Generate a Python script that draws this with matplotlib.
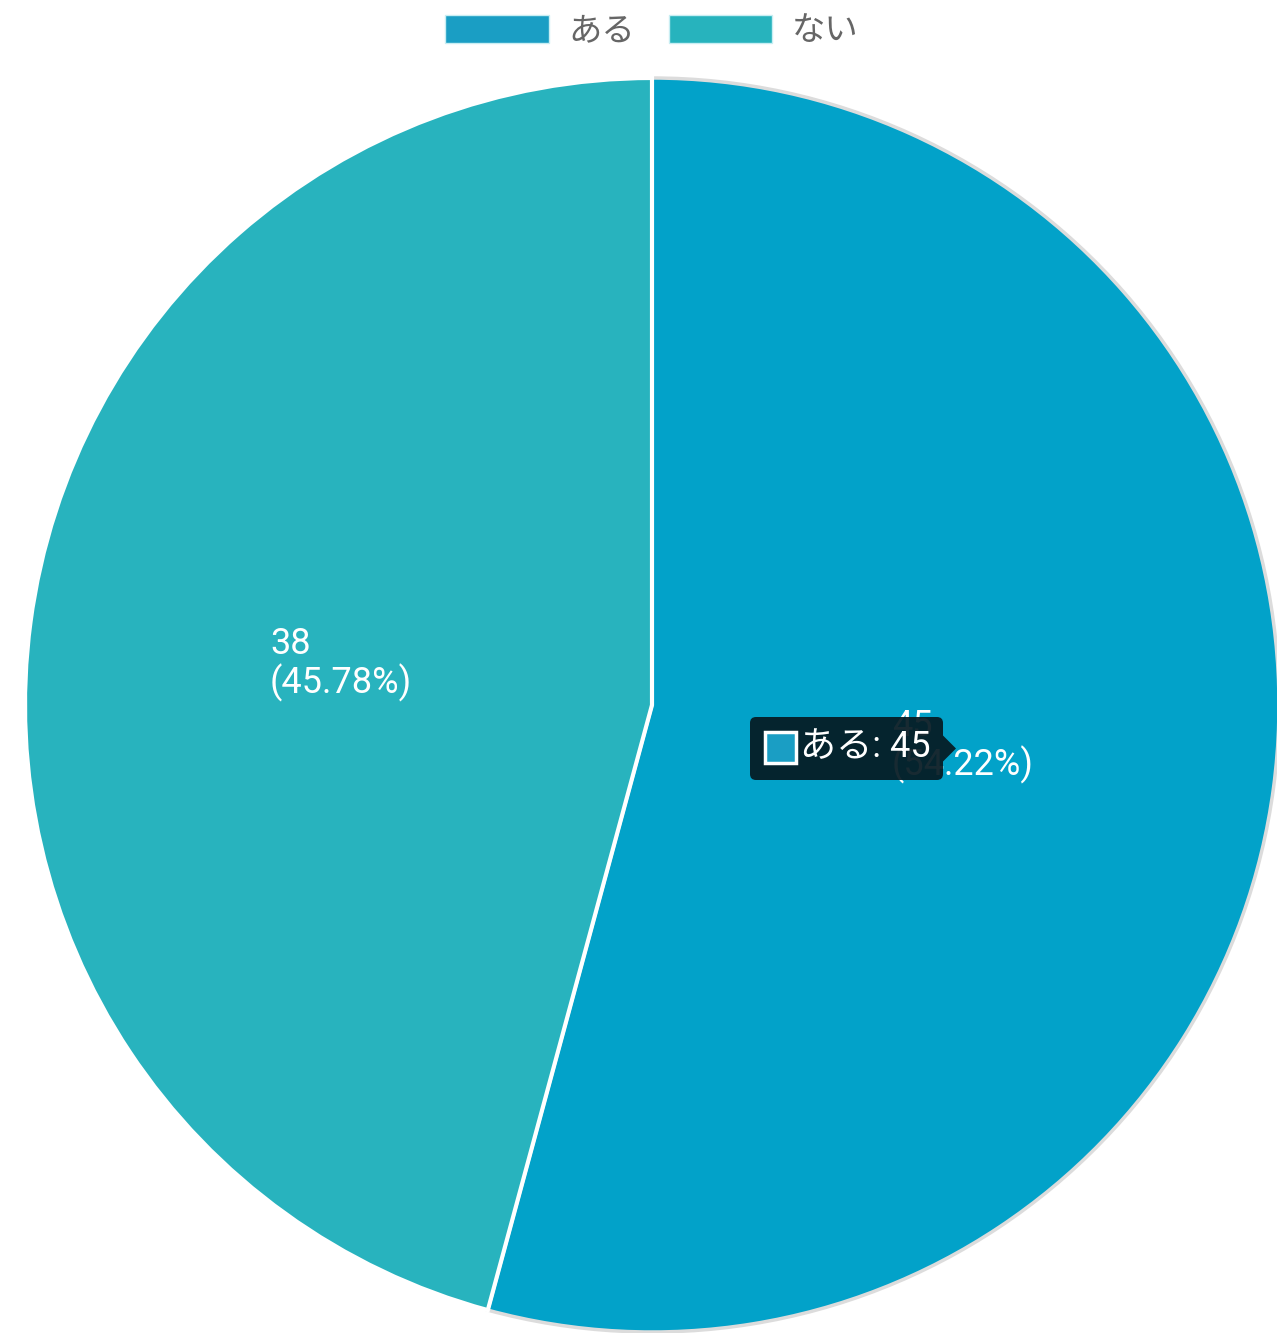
import matplotlib
matplotlib.use("Agg")
from matplotlib import pyplot as plt
from matplotlib.patches import Rectangle, Polygon, FancyBboxPatch

plt.rcParams['font.family'] = ['Roboto', 'Noto Sans CJK JP', 'DejaVu Sans']

labels = ["ある", "ない"]
values = [45, 38]
colors = ["#02a2c9", "#28b3be"]
legend_colors = ["#1a9ec4", "#27b3bd"]

W, H = 1277, 1333
fig = plt.figure(figsize=(W / 100, H / 100), dpi=100)
ax = fig.add_axes([0, 0, 1, 1])

cx, cy, r = 652, H - 705, 627
total = sum(values)

def fmt(pct):
    v = round(pct * total / 100)
    return "%d\n(%.2f%%)" % (v, pct)

wedges, texts, autotexts = ax.pie(
    values, colors=colors, startangle=90, counterclock=False,
    center=(cx, cy), radius=r, autopct=fmt, pctdistance=0.5,
    wedgeprops=dict(edgecolor="white", linewidth=3),
    textprops=dict(color="white", fontsize=26),
    frame=True)
ax.set_xlim(0, W)
ax.set_ylim(0, H)
ax.set_aspect("equal")
ax.axis("off")
wedges[0].set_edgecolor("#dcdcdc")
wedges[0].set_linewidth(2.5)
wedges[0].set_zorder(1)
wedges[1].set_zorder(2)
for t in autotexts:
    t.set_multialignment("left")
    t.set_linespacing(1.05)
    t.set_zorder(3)

# tooltip
tip_x0, tip_y0, tip_w, tip_h = 750, H - 780, 193, 63
ax.add_patch(FancyBboxPatch((tip_x0 + 6, tip_y0 + 6), tip_w - 12, tip_h - 12,
                            boxstyle="round,pad=6", fc="#061a22", ec="none",
                            alpha=0.93, zorder=5))
ax.add_patch(Polygon([(tip_x0 + tip_w, tip_y0 + tip_h / 2 + 13),
                      (tip_x0 + tip_w + 13, tip_y0 + tip_h / 2),
                      (tip_x0 + tip_w, tip_y0 + tip_h / 2 - 13)],
                     closed=True, fc="#061a22", ec="none", alpha=0.93, zorder=5))
ax.add_patch(Rectangle((765, H - 763), 31, 31, fc=legend_colors[0],
                       ec="white", lw=2.5, zorder=6))
ax.text(800, H - 747, "%s: %d" % (labels[0], values[0]), color="white",
        fontsize=26, va="center", ha="left", zorder=6)

# legend
handles = [Rectangle((0, 0), 1, 1, fc=c, ec="#c8eef3", lw=1) for c in legend_colors]
leg = fig.legend(handles, labels, loc="upper center", ncol=2, frameon=False,
                 bbox_to_anchor=(cx / W, 1.0), fontsize=24, handlelength=3.1,
                 handleheight=0.9, handletextpad=0.6, columnspacing=1.0,
                 borderaxespad=0.05)
for t in leg.get_texts():
    t.set_color("#666666")

fig.savefig("out.png", dpi=100)
